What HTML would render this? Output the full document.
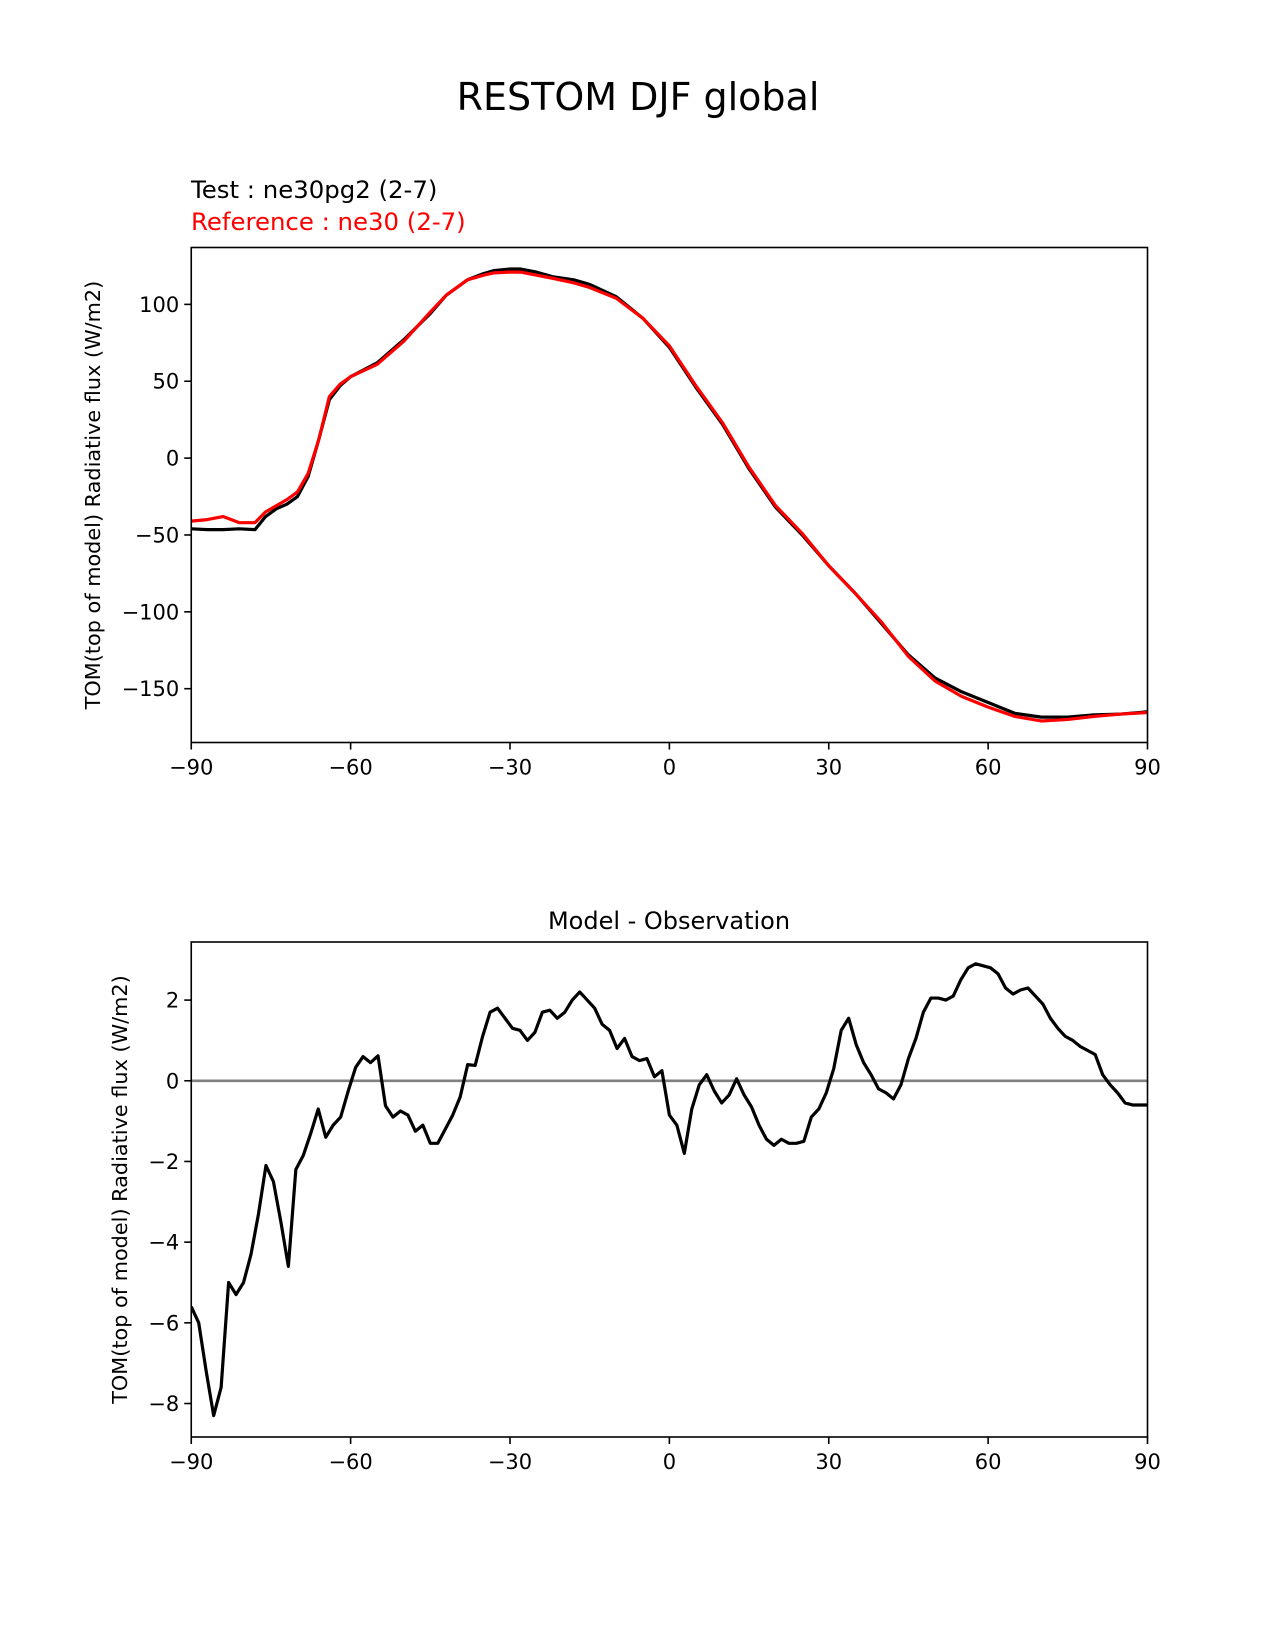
<!DOCTYPE html>
<html><head><meta charset="utf-8"><style>
html,body{margin:0;padding:0;background:#fff}
svg{display:block;font-family:"DejaVu Sans","Liberation Sans",sans-serif}
</style></head><body>
<svg id="fig" width="1275" height="1650" viewBox="0 0 1275 1650" xmlns="http://www.w3.org/2000/svg">
<text x="638" y="110" font-size="38" text-anchor="middle">RESTOM DJF global</text>
<text x="191" y="198" font-size="24.4" fill="#000">Test : ne30pg2 (2-7)</text>
<text x="191" y="230" font-size="24.4" fill="#ff0000">Reference : ne30 (2-7)</text>
<text x="669" y="929" font-size="24" text-anchor="middle">Model - Observation</text>
<g id="top"></g>
<g id="bot"></g>
</svg>
<script>
const topLat=[-90,-87,-84,-81,-78,-76,-74,-72,-70,-68,-66,-64,-62,-60,-55,-50,-45,-42,-38,-35,-33,-30,-28,-25,-22,-18,-15,-10,-5,0,5,10,15,20,25,30,35,40,45,50,55,60,65,70,75,80,85,90];
const testVals=[-46,-46.5,-46.5,-46,-46.5,-38,-33,-30,-25,-12,12,38,47,53,62,77,94,106,116,120,122,123,123,121,118,116,113,105,91,72,46,22,-7,-32,-50,-70,-88,-108,-128,-143,-152,-159,-166,-168.5,-168.5,-167,-166.5,-165];
const refVals=[-41,-40,-38,-42,-42,-35,-31,-27,-22,-10,12,40,48,53,61,76,95,106,116,119,120.5,121,121,119,117,114,111,104,91,73,47,23,-6,-31,-49,-70,-88,-107,-129,-145,-155,-162,-168,-171,-170,-168,-166.5,-165.5];
const diffVals=[-5.6,-6.0,-7.2,-8.3,-7.6,-5.0,-5.3,-5.0,-4.3,-3.3,-2.1,-2.5,-3.5,-4.6,-2.2,-1.85,-1.3,-0.7,-1.4,-1.1,-0.9,-0.26,0.33,0.6,0.45,0.62,-0.62,-0.9,-0.75,-0.85,-1.25,-1.1,-1.55,-1.55,-1.2,-0.85,-0.4,0.4,0.38,1.1,1.7,1.8,1.55,1.3,1.25,1.0,1.2,1.7,1.75,1.55,1.7,2.0,2.2,2.0,1.8,1.4,1.25,0.8,1.05,0.6,0.5,0.55,0.1,0.25,-0.85,-1.1,-1.8,-0.7,-0.1,0.15,-0.25,-0.55,-0.35,0.05,-0.35,-0.65,-1.1,-1.45,-1.6,-1.45,-1.55,-1.55,-1.5,-0.9,-0.7,-0.3,0.3,1.25,1.55,0.9,0.45,0.15,-0.2,-0.3,-0.45,-0.1,0.55,1.05,1.7,2.05,2.05,2.0,2.1,2.5,2.8,2.9,2.85,2.8,2.65,2.3,2.15,2.25,2.3,2.1,1.9,1.55,1.3,1.1,1.0,0.85,0.75,0.65,0.15,-0.1,-0.3,-0.55,-0.6,-0.6,-0.6];
const xTicks=[-90,-60,-30,0,30,60,90];
const xTickLabels=["\u221290","\u221260","\u221230","0","30","60","90"];
const topYTicks=[-150,-100,-50,0,50,100];
const botYTicks=[-8,-6,-4,-2,0,2];

const NS="http://www.w3.org/2000/svg";
function mk(parent,tag,attrs,text){const e=document.createElementNS(NS,tag);for(const k in attrs)e.setAttribute(k,attrs[k]);if(text!==undefined)e.textContent=text;parent.appendChild(e);return e;}
const L=191.25,R=1147.5;
const xs=v=>L+(v+90)/180*(R-L);
function fmt(v){return v<0?"\u2212"+Math.abs(v):String(v);}

function axes(g,T,B,ymin,ymax,yticks,ylabelX){
  const ys=v=>B-(v-ymin)/(ymax-ymin)*(B-T);
  xTicks.forEach((t,i)=>{
    const l=mk(g,'line',{x1:xs(t),x2:xs(t),y1:B,y2:B+7,stroke:'#000','stroke-width':1.6});
    
    
    const tx=mk(g,'text',{x:xs(t),y:B+32,'font-size':21,'text-anchor':'middle'},xTickLabels[i]);
    
    
  });
  yticks.forEach(t=>{
    const l=mk(g,'line',{x1:L-7,x2:L,y1:ys(t),y2:ys(t),stroke:'#000','stroke-width':1.6});
    
    
    const tx=mk(g,'text',{x:L-12,y:ys(t)+7.5,'font-size':21,'text-anchor':'end'},fmt(t));
    
    
  });
  const yl=mk(g,'text',{x:ylabelX,y:(T+B)/2,'font-size':20.8,'text-anchor':'middle',transform:`rotate(-90 ${ylabelX} ${(T+B)/2})`},'TOM(top of model) Radiative flux (W/m2)');
  
  
  return ys;
}
function line(g,lat,vals,ys,color,w,name){
  const d=lat.map((x,i)=>(i?'L':'M')+xs(x).toFixed(2)+','+ys(vals[i]).toFixed(2)).join('');
  const p=mk(g,'path',{d:d,fill:'none',stroke:color,'stroke-width':w,'stroke-linejoin':'round','stroke-linecap':'butt'});
  
  
}
function frame(g,T,B){
  const r=mk(g,'rect',{x:L,y:T,width:R-L,height:B-T,fill:'none',stroke:'#000','stroke-width':1.6});
  
  
}
const gt=document.getElementById('top');
const T1=247.5,B1=742.5;
const ys1=axes(gt,T1,B1,-185,137,topYTicks,100);
const cp1=mk(gt,'clipPath',{id:'c1'});mk(cp1,'rect',{x:L,y:T1,width:R-L,height:B1-T1});
const gl1=mk(gt,'g',{'clip-path':'url(#c1)'});
line(gl1,topLat,testVals,ys1,'#000',3.2,'test-line');
line(gl1,topLat,refVals,ys1,'#ff0000',3.2,'reference-line');
frame(gt,T1,B1);
const gb=document.getElementById('bot');
const T2=942,B2=1437;
const ys2=axes(gb,T2,B2,-8.83,3.44,botYTicks,127);
const z=mk(gb,'line',{x1:L,x2:R,y1:ys2(0),y2:ys2(0),stroke:'#808080','stroke-width':2.6});


const diffLat=diffVals.map((v,i)=>-90+i*180/(diffVals.length-1));
const cp2=mk(gb,'clipPath',{id:'c2'});mk(cp2,'rect',{x:L,y:T2,width:R-L,height:B2-T2});
const gl2=mk(gb,'g',{'clip-path':'url(#c2)'});
line(gl2,diffLat,diffVals,ys2,'#000',3.2,'diff-line');
frame(gb,T2,B2);
</script>
</body></html>
